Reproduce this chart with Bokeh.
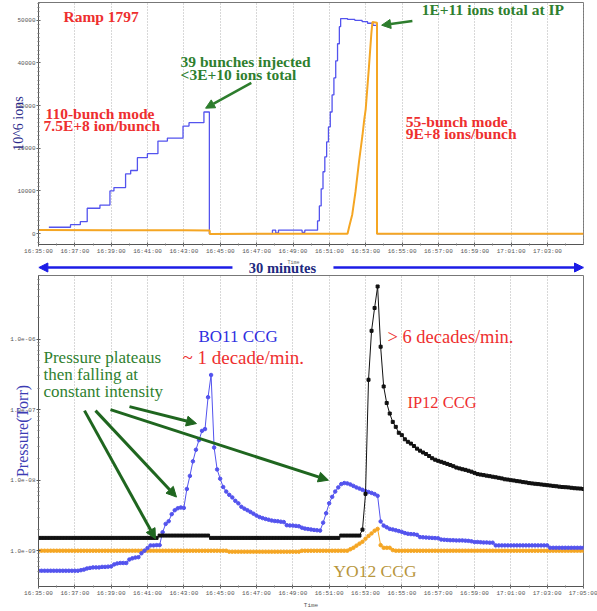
import math
from bokeh.plotting import figure
from bokeh.layouts import column
from bokeh.models import (Range1d, FixedTicker, CustomJSTickFormatter, Label, Arrow,
                          NormalHead, ColumnDataSource)
from bokeh.embed import file_html
from bokeh.resources import INLINE

# ---------------- data ----------------
TICK_MINUTES = list(range(0, 31, 2))
TICK_LABELS = ["16:35:00", "16:37:00", "16:39:00", "16:41:00", "16:43:00", "16:45:00",
               "16:47:00", "16:49:00", "16:51:00", "16:53:00", "16:55:00", "16:57:00",
               "16:59:00", "17:01:00", "17:03:00", "17:05:00"]

# Top panel: beam intensity, 10^6 ions (minutes after 16:35)
BLUE_ION_T = [0.57, 1.76, 2.30, 2.68, 3.38, 3.93, 4.15, 4.79, 5.07, 5.44, 5.99, 6.57, 7.09,
              7.95, 8.28, 9.10, 9.40, 12.87, 13.05, 13.20, 14.50, 14.65, 15.35, 15.45, 15.55,
              15.65, 15.75, 15.85, 15.95, 16.05, 16.15, 16.25, 16.35, 16.45, 16.55, 16.62,
              17.00, 17.40, 17.80, 18.10, 18.40, 18.60, 30.00]
BLUE_ION_V = [1500, 2100, 2800, 5950, 6700, 10000, 10800, 14000, 14800, 17800, 18750, 21700,
              22400, 25200, 26000, 28500, 0, 800, 150, 800, 300, 800, 3000, 6500, 10500,
              14500, 18000, 21500, 25000, 28500, 32500, 36500, 40500, 44500, 48500, 50400,
              50200, 50000, 49700, 49300, 48800, 0, 0]
YELLOW_ION_T = [0.0, 4.0, 8.0, 9.42, 9.42, 17.0, 17.1, 17.26, 17.44, 17.63, 17.82, 17.92,
                18.0, 18.18, 18.31, 18.37, 18.62, 18.62, 30.0]
YELLOW_ION_V = [850, 820, 780, 760, -60, -30, 1800, 4500, 9900, 16800, 23000, 26800,
                29200, 39200, 46900, 49600, 49400, 0, 0]

# Bottom panel: pressure samples every 10 s, in units of 1e-9 Torr
SAMPLE_SECONDS = list(range(0, 1801, 10))
BO11_NTORR = ([0.52] * 14 +
              [0.53, 0.54, 0.56, 0.57, 0.58, 0.58, 0.58, 0.59, 0.59, 0.595,
               0.6, 0.64, 0.66, 0.67, 0.67, 0.67, 0.75, 0.78, 0.8, 0.81,
               0.92, 1.0, 1.09, 1.19, 1.19, 1.2, 1.2, 1.83, 2.4, 2.62,
               3.3, 3.75, 4.0, 4.1, 4.05, 7.5, 11.5, 18.5, 27, 37,
               50, 53, 150, 310, 29, 14.2, 10.5, 8.0, 6.9, 6.2,
               5.7, 5.1, 4.7, 4.2, 3.95, 3.75, 3.55, 3.35, 3.15, 3.0,
               2.9, 2.82, 2.75, 2.68, 2.64, 2.62, 2.58, 2.55, 2.3, 2.28,
               2.27, 2.25, 2.22, 2.12, 2.06, 2.03, 2.0, 1.97, 1.95, 1.93,
               2.5, 3.4, 4.7, 5.8, 6.9, 7.9, 8.8, 9.1, 9.0, 8.7,
               8.3, 7.9, 7.6, 7.3, 7.0, 6.8, 6.6, 6.35, 6.0, 2.6,
               2.27, 2.15, 2.04, 2.0, 1.95, 1.9, 1.85, 1.78, 1.74, 1.72,
               1.71, 1.68, 1.56, 1.55, 1.54, 1.53, 1.52, 1.51, 1.5, 1.44,
               1.43, 1.42, 1.41, 1.41, 1.4, 1.4, 1.4, 1.39, 1.38, 1.36,
               1.33, 1.33, 1.32, 1.31, 1.31, 1.3, 1.3] +
              [1.19] * 18 + [1.1] * 12)
IP12_NTORR = ([1.52] * 40 + [1.64] * 17 + [1.52] * 43 + [1.64] * 7 +
              [1.99, 6.4, 265, 1310, 2760, 5570, 780, 213, 124, 88,
               67, 57, 47, 43.5, 38, 35, 33, 30.5, 28, 26.2,
               24.7, 23.5, 22, 20.5, 19.5, 18.8, 18.2, 17.6, 17, 16.4,
               15.8, 15.1, 14.7, 14.3, 14.0, 13.6, 13.2, 12.7, 12.2, 12.0,
               11.8, 11.6, 11.4, 11.2, 11.0, 10.8, 10.6, 10.3, 10.2, 10.0,
               9.9, 9.7, 9.6, 9.4, 9.3, 9.1, 9.0, 8.9, 8.8, 8.7,
               8.6, 8.5, 8.4, 8.3, 8.2, 8.1, 8.0, 7.95, 7.9, 7.8,
               7.7, 7.65, 7.6, 7.5])
YO12_NTORR = ([1.0] * 63 + [0.97] * 24 + [1.0] * 16 +
              [1.05, 1.1, 1.18, 1.26, 1.34, 1.48, 1.62, 1.76, 1.92, 2.04, 1.2, 1.1, 1.1, 1.1, 1.02] +
              [1.0] * 63)

# ---------------- styling helpers ----------------
SERIF = "Liberation Serif"
RED = "#ee2f2f"
GREEN_TXT = "#2f7f2f"
GREEN_ARW = "#1f661f"
BLUE_LINE = "#5353ee"
ORANGE = "#f5a623"
NAVY = "#1e2a80"


def tx(px):
    return (px - 38) / 18.17


def top_v(py):
    return (236 - py) / 43.2 * 10000


def bot_p(py):
    return 10 ** (-9 + (552 - py) / 71.0)


def style_axis(ax):
    ax.axis_line_color = "#555555"
    ax.major_tick_line_color = "#555555"
    ax.minor_tick_line_color = "#777777"
    ax.major_tick_in = 2
    ax.major_tick_out = 2
    ax.minor_tick_in = 1
    ax.minor_tick_out = 1
    ax.major_label_text_font = "Liberation Mono"
    ax.major_label_text_font_size = "6px"
    ax.major_label_text_color = "#555555"
    ax.major_label_standoff = 1


def add_label(p, x, y, text, size, color, bold=False, align="left"):
    p.add_layout(Label(x=x, y=y, text=text, text_font=SERIF, text_font_size=f"{size}px",
                       text_color=color, text_font_style="bold" if bold else "normal",
                       text_align=align, text_baseline="middle"))


def add_arrow(p, x0, y0, x1, y1, color, width, head):
    p.add_layout(Arrow(x_start=x0, y_start=y0, x_end=x1, y_end=y1, line_color=color,
                       line_width=width,
                       end=NormalHead(size=head, fill_color=color, line_color=color)))


time_fmt = CustomJSTickFormatter(args=dict(labels=TICK_LABELS),
                                 code="return labels[Math.round(tick / 2)] || '';")
minute_ticker = FixedTicker(ticks=TICK_MINUTES, minor_ticks=list(range(0, 31)))

# ---------------- top panel ----------------
top = figure(width=597, height=257, x_range=Range1d(0, 29.98),
             y_range=Range1d(top_v(247), top_v(2)),
             output_backend="svg", toolbar_location=None,
             min_border_left=38, min_border_right=13, min_border_top=2, min_border_bottom=10,
             background_fill_color="white", border_fill_color="white",
             outline_line_color="#777777")
top.xaxis.ticker = minute_ticker
top.xaxis.formatter = time_fmt
top.yaxis.ticker = FixedTicker(ticks=[0, 10000, 20000, 30000, 40000, 50000],
                               minor_ticks=[k * 1000 for k in range(-2, 55)])
for ax in top.axis:
    style_axis(ax)
top.yaxis.axis_label = "10^6 ions"
top.yaxis.axis_label_text_font = SERIF
top.yaxis.axis_label_text_font_size = "14px"
top.yaxis.axis_label_text_font_style = "normal"
top.yaxis.axis_label_text_color = "#2a2a8a"
top.yaxis.axis_label_standoff = -12
top.xgrid.ticker = minute_ticker
top.xgrid.grid_line_color = "#b0b0b0"
top.xgrid.grid_line_dash = "1 2"
top.ygrid.visible = False

top.step(BLUE_ION_T, BLUE_ION_V, mode="after", line_color=BLUE_LINE, line_width=1.3)
top.line(YELLOW_ION_T, YELLOW_ION_V, line_color=ORANGE, line_width=2)

add_label(top, tx(63), top_v(16), "Ramp 1797", 15.5, RED, bold=True)
add_label(top, tx(180), top_v(62), "39 bunches injected", 15.5, GREEN_TXT, bold=True)
add_label(top, tx(180), top_v(75), "<3E+10 ions total", 15.5, GREEN_TXT, bold=True)
add_label(top, tx(45), top_v(114), "110-bunch mode", 15.5, RED, bold=True)
add_label(top, tx(43), top_v(127), "7.5E+8 ion/bunch", 15.5, RED, bold=True)
add_label(top, tx(421), top_v(9), "1E+11 ions total at IP", 15.5, GREEN_TXT, bold=True)
add_label(top, tx(405), top_v(122), "55-bunch mode", 15.5, RED, bold=True)
add_label(top, tx(405), top_v(135), "9E+8 ions/bunch", 15.5, RED, bold=True)
add_arrow(top, tx(250.7), top_v(83.3), tx(205), top_v(109), "#2d7d2d", 2.5, 9)
add_arrow(top, tx(411.7), top_v(20.7), tx(381), top_v(25), "#2d7d2d", 2.5, 9)

# ---------------- middle band ("30 minutes") ----------------
MID_TOP = 257
mid = figure(width=597, height=18, x_range=Range1d(0, 30), y_range=Range1d(18, 0),
             output_backend="svg", toolbar_location=None,
             x_axis_location=None, y_axis_location=None,
             min_border_left=38, min_border_right=14, min_border_top=0, min_border_bottom=0,
             outline_line_color=None, background_fill_color="white", border_fill_color="white")
mid.grid.visible = False
mid.add_layout(Label(x=tx(293), y=262 - MID_TOP, text="Time", text_font="Liberation Mono",
                     text_font_size="5px", text_color="#666666", text_align="center",
                     text_baseline="middle"))
add_arrow(mid, tx(232), 267 - MID_TOP, 0.02, 267 - MID_TOP, "#1c1ce6", 2.5, 9)
add_arrow(mid, tx(333), 267 - MID_TOP, 30.0, 267 - MID_TOP, "#1c1ce6", 2.5, 9)
add_label(mid, tx(282), 267 - MID_TOP, "30 minutes", 14.5, NAVY, bold=True, align="center")

# ---------------- bottom panel ----------------
bot = figure(width=597, height=336, x_range=Range1d(0, 30),
             y_range=Range1d(bot_p(588), bot_p(275)), y_axis_type="log",
             output_backend="svg", toolbar_location=None,
             min_border_left=38, min_border_right=14, min_border_top=0, min_border_bottom=23,
             background_fill_color="white", border_fill_color="white",
             outline_line_color="#777777")
bot.xaxis.ticker = minute_ticker
bot.xaxis.formatter = time_fmt
bot.xaxis.axis_label = "Time"
bot.xaxis.axis_label_text_font = "Liberation Mono"
bot.xaxis.axis_label_text_font_size = "6px"
bot.xaxis.axis_label_text_font_style = "normal"
bot.xaxis.axis_label_text_color = "#555555"
bot.xaxis.axis_label_standoff = 2
bot.yaxis.ticker = FixedTicker(ticks=[1e-10, 1e-9, 1e-8, 1e-7, 1e-6, 1e-5],
                               minor_ticks=[k * 10.0 ** n for n in range(-10, -4) for k in range(2, 10)])
bot.yaxis.formatter = CustomJSTickFormatter(code="""
const e = Math.round(Math.log10(tick));
const s = e < 0 ? '-' : '+';
return '1.0e' + s + String(Math.abs(e)).padStart(2, '0');
""")
for ax in bot.axis:
    style_axis(ax)
bot.yaxis.axis_label = "Pressure(Torr)"
bot.yaxis.axis_label_text_font = SERIF
bot.yaxis.axis_label_text_font_size = "16px"
bot.yaxis.axis_label_text_font_style = "normal"
bot.yaxis.axis_label_text_color = "#3c3cb4"
bot.yaxis.axis_label_standoff = -24
bot.xgrid.ticker = minute_ticker
bot.xgrid.grid_line_color = "#b0b0b0"
bot.xgrid.grid_line_dash = "1 2"
bot.ygrid.visible = False

t_min = [s / 60.0 for s in SAMPLE_SECONDS]
series = [(YO12_NTORR, ORANGE, "circle", 3.5),
          (BO11_NTORR, BLUE_LINE, "circle", 3.5),
          (IP12_NTORR, "#111111", "square", 3.0)]
for vals, col, mk, sz in series:
    src = ColumnDataSource(dict(t=t_min[:len(vals)], p=[v * 1e-9 for v in vals]))
    bot.line("t", "p", source=src, line_color=col, line_width=1)
    bot.scatter("t", "p", source=src, marker=mk, size=sz, fill_color=col, line_color=col)

add_label(bot, tx(198), bot_p(336), "BO11 CCG", 17, "#2e2ee0")
add_label(bot, tx(182), bot_p(358), "~ 1 decade/min.", 19, RED)
add_label(bot, tx(387), bot_p(337), "> 6 decades/min.", 18.5, RED)
add_label(bot, tx(407), bot_p(403), "IP12 CCG", 16.5, RED)
add_label(bot, tx(43), bot_p(358), "Pressure plateaus", 17, GREEN_TXT)
add_label(bot, tx(43), bot_p(375), "then falling at", 17, GREEN_TXT)
add_label(bot, tx(43), bot_p(392), "constant intensity", 17, GREEN_TXT)
add_label(bot, tx(333), bot_p(572), "YO12 CCG", 17.5, "#b8963c")
add_arrow(bot, tx(84), bot_p(411), tx(155), bot_p(540), GREEN_ARW, 3, 10)
add_arrow(bot, tx(95), bot_p(411), tx(176), bot_p(498), GREEN_ARW, 3, 10)
add_arrow(bot, tx(110), bot_p(410), tx(328), bot_p(481), GREEN_ARW, 3, 10)
add_arrow(bot, tx(129), bot_p(407), tx(196), bot_p(424), GREEN_ARW, 3, 10)

layout = column(top, mid, bot, spacing=0)
open("out.html", "w").write(file_html(layout, INLINE))
